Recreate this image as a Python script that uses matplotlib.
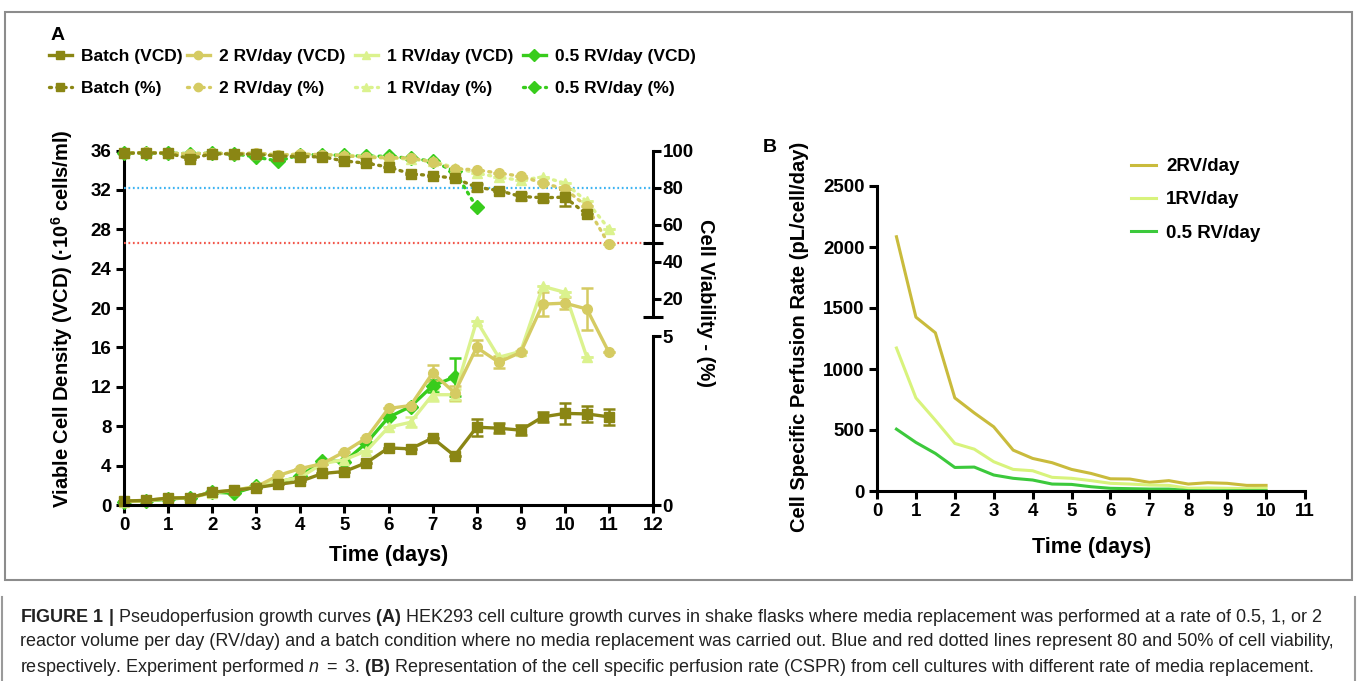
import numpy as np
import matplotlib
matplotlib.use("Agg")
import matplotlib.pyplot as plt
from matplotlib.lines import Line2D
from matplotlib.patches import Rectangle

plt.rcParams['font.family'] = ['Liberation Sans', 'DejaVu Sans']
plt.rcParams['mathtext.fontset'] = 'custom'
plt.rcParams['mathtext.rm'] = 'Liberation Sans'
plt.rcParams['mathtext.bf'] = 'Liberation Sans:bold'
plt.rcParams['mathtext.it'] = 'Liberation Sans:italic'

# ---- panel A data (time in days) ----
gun = np.arange(0, 11.01, 0.5)

batch_vcd = [0.4, 0.47, 0.7, 0.75, 1.3, 1.5, 1.76, 2.1, 2.4, 3.2, 3.4, 4.3, 5.8,
             5.7, 6.8, 5.0, 7.9, 7.8, 7.6, 8.95, 9.3, 9.25, 8.95]
batch_vcd_err = [0, 0, 0, 0, 0, 0, 0, 0, 0, 0, 0, 0, 0,
                 0, 0, 0, 0.85, 0.5, 0.5, 0.5, 1.05, 0.8, 0.8]
rv2_vcd = [0.4, 0.45, 0.7, 0.75, 1.3, 1.5, 1.85, 3.0, 3.7, 4.2, 5.4, 6.8, 9.8,
           10.1, 13.4, 11.4, 16.0, 14.5, 15.5, 20.4, 20.5, 19.9, 15.5]
rv2_vcd_err = [0, 0, 0, 0, 0, 0, 0, 0, 0, 0, 0, 0, 0,
               0, 0.85, 0.7, 0.8, 0.6, 0, 1.2, 0.6, 2.1, 0]
rv1_vcd = [0.35, 0.4, 0.65, 0.75, 1.2, 1.5, 1.9, 2.4, 2.8, 4.2, 4.6, 5.5, 7.9,
           8.4, 11.2, 11.2, 18.7, 15.0, 15.6, 22.2, 21.6, 15.0]
rv1_vcd_err = [0, 0, 0, 0, 0, 0, 0, 0, 0, 0, 0, 0, 0,
               0.5, 0.6, 0.6, 0, 0, 0, 0, 0, 0]
rv05_vcd = [0.35, 0.4, 0.6, 0.75, 1.3, 1.2, 1.9, 2.3, 2.9, 4.5, 4.4, 6.3, 8.9,
            10.0, 12.1, 13.0]
rv05_vcd_err = [0, 0, 0, 0, 0, 0, 0, 0, 0, 0, 0, 0, 0, 0, 0.6, 1.9]

batch_via = [98.8, 99.0, 98.8, 95.8, 98.5, 98.4, 98.2, 97.3, 97.0, 96.8, 94.6, 93.4,
             91.3, 87.7, 86.6, 85.3, 80.4, 78.6, 75.4, 74.7, 75.0, 65.7]
batch_via_err = [0, 0, 0, 0, 0, 0, 0, 0, 0, 0, 0, 0,
                 0, 0, 0, 0, 2.0, 0, 2.0, 2.0, 4.5, 0]
rv2_via = [98.9, 99.2, 99.0, 98.2, 98.8, 98.5, 99.0, 97.8, 98.3, 98.0, 97.5, 96.5,
           96.3, 96.3, 94.0, 90.4, 89.8, 88.0, 86.4, 82.6, 79.5, 70.0, 49.5]
rv1_via = [98.8, 99.0, 98.8, 98.5, 98.8, 98.6, 98.5, 98.0, 98.2, 98.0, 97.8, 97.0,
           96.5, 95.5, 94.5, 91.0, 88.0, 85.8, 84.1, 86.0, 82.6, 72.7, 57.9]
rv05_via = [98.8, 99.0, 98.8, 98.6, 98.8, 98.5, 96.7, 94.5, 98.0, 98.0, 97.6, 97.1,
            97.2, 96.0, 94.5, 89.0, 69.6]

# ---- panel B data ----
gun_b = np.arange(0.5, 10.01, 0.5)
cspr_2rv = [2084, 1425, 1297, 763, 640, 526, 335, 267, 232, 177, 144, 100, 98,
            71, 85, 57, 68, 63, 46, 46]
cspr_1rv = [1172, 763, 580, 390, 343, 240, 177, 166, 112, 104, 85, 63, 57,
            49, 46, 22, 25, 22, 19, 22]
cspr_05rv = [507, 398, 308, 193, 196, 131, 104, 90, 57, 54, 35, 22, 19,
             16, 16, 3, 2, 2, 2, 2]

# renkler
c_batch = '#8a8614'
c_2rv = '#d5cb62'
c_1rv = '#dbf28e'
c_05rv = '#38cc1c'
cb_2rv = '#c9bb3c'
cb_1rv = '#d8f37c'
cb_05rv = '#3cc93c'

W, H = 1357, 681
fig = plt.figure(figsize=(W / 100, H / 100), dpi=100)

def kutu(x0, y0, x1, y1):
    return [x0 / W, 1 - y1 / H, (x1 - x0) / W, (y1 - y0) / H]

tick_fs = 13.5
lab_fs = 14.5

# ---------------- panel A ----------------
ax = fig.add_axes(kutu(124, 150.5, 653, 505))
ax2 = ax.twinx()
ax3 = ax.twinx()

ax.set_xlim(0, 12)
ax.set_ylim(0, 36)
ax2.set_ylim(-91.6, 100.27)
ax3.set_ylim(0, 10.5)

ms = 7
lw = 2.4
dot = (0, (0.6, 1.6))

seriler = [
    (rv05_vcd, rv05_vcd_err, rv05_via, None, c_05rv, 'D', '0.5 RV/day'),
    (rv1_vcd, rv1_vcd_err, rv1_via, None, c_1rv, '^', '1 RV/day'),
    (rv2_vcd, rv2_vcd_err, rv2_via, None, c_2rv, 'o', '2 RV/day'),
    (batch_vcd, batch_vcd_err, batch_via, batch_via_err, c_batch, 's', 'Batch'),
]

ax2.axhline(80, color='#3fb4f2', lw=1.6, ls=(0, (0.8, 1.2)), zorder=1)
ax2.axhline(50, color='#f2584c', lw=1.6, ls=(0, (0.8, 1.2)), zorder=1)

for vcd, vcd_err, via, via_err, renk, mk, ad in seriler:
    t = gun[:len(vcd)]
    ax.errorbar(t, vcd, yerr=vcd_err, color=renk, marker=mk, ms=ms, lw=lw,
                capsize=4, capthick=1.8, elinewidth=1.8, clip_on=False)
    t2 = gun[:len(via)]
    if via_err is None:
        via_err = np.zeros(len(via))
    ax2.errorbar(t2, via, yerr=via_err, color=renk, marker=mk, ms=ms, lw=lw,
                 ls=dot, dash_capstyle='round', capsize=4, capthick=1.8,
                 elinewidth=1.8, clip_on=False)

spw = 2.2
for s in ['top', 'right']:
    ax.spines[s].set_visible(False)
for a in (ax2, ax3):
    for s in ['top', 'left', 'bottom']:
        a.spines[s].set_visible(False)
    a.spines['right'].set_linewidth(spw)
ax.spines['left'].set_linewidth(spw)
ax.spines['bottom'].set_linewidth(spw)

ax.set_xticks(range(0, 13))
ax.set_yticks(range(0, 37, 4))
ax.tick_params(width=spw, length=6, labelsize=tick_fs, pad=3)
for lab in ax.get_xticklabels() + ax.get_yticklabels():
    lab.set_fontweight('bold')

ax2.spines['right'].set_bounds(10, 100)
ax2.set_yticks([20, 40, 60, 80, 100])
ax2.set_yticks([10, 50], minor=True)
ax2.tick_params(axis='y', width=spw, length=6, labelsize=tick_fs, pad=1)
ax2.tick_params(axis='y', which='minor', width=spw, length=14, direction='inout')
ax3.spines['right'].set_bounds(0, 5)
ax3.set_yticks([0, 5])
ax3.set_yticks([5], minor=True)
ax3.tick_params(axis='y', width=spw, length=6, labelsize=tick_fs, pad=1)
ax3.tick_params(axis='y', which='minor', width=spw, length=14, direction='inout')
for a in (ax2, ax3):
    for lab in a.get_yticklabels():
        lab.set_fontweight('bold')

ax.set_xlabel('Time (days)', fontsize=lab_fs + 1, fontweight='bold')
ax.xaxis.set_label_coords(0.5, -0.113)
ax.set_ylabel(r'Viable Cell Density (VCD) (·10$^{\mathbf{6}}$ cells/ml)',
              fontsize=lab_fs, fontweight='bold')
ax.yaxis.set_label_coords(-0.0926, 0.527)
fig.text(705 / W, 1 - 303 / H, 'Cell Viability - (%)', rotation=-90,
         fontsize=lab_fs, fontweight='bold', ha='center', va='center')

fig.text(58 / W, 1 - 36 / H, 'A', fontsize=14, fontweight='bold', ha='center', va='center')

# panel A legend: one small legend per column
sutun_x = [49, 187, 355, 523]
for (vcd, vcd_err, via, via_err, renk, mk, ad), x0 in zip(reversed(seriler), sutun_x):
    h1 = Line2D([], [], color=renk, marker=mk, ms=6, lw=lw, label=ad + ' (VCD)')
    h2 = Line2D([], [], color=renk, marker=mk, ms=6, lw=lw, ls=dot,
                dash_capstyle='round', label=ad + ' (%)')
    fig.legend(handles=[h1, h2], loc='upper left',
               bbox_to_anchor=(x0 / W, 1 - 49 / H), frameon=False,
               prop={'weight': 'bold', 'size': 12.5}, handlelength=1.32,
               handletextpad=0.55, labelspacing=0.95,
               borderaxespad=0, borderpad=0)

# ---------------- panel B ----------------
bx = fig.add_axes(kutu(877, 186, 1305, 491))
bx.plot(gun_b, cspr_2rv, color=cb_2rv, lw=2.2, label='2RV/day')
bx.plot(gun_b, cspr_1rv, color=cb_1rv, lw=2.2, label='1RV/day')
bx.plot(gun_b, cspr_05rv, color=cb_05rv, lw=2.2, label='0.5 RV/day')
bx.set_xlim(0, 11)
bx.set_ylim(0, 2500)
bx.set_xticks(range(0, 12))
bx.set_yticks(range(0, 2501, 500))
for s in ['top', 'right']:
    bx.spines[s].set_visible(False)
for s in ['left', 'bottom']:
    bx.spines[s].set_linewidth(spw)
bx.tick_params(width=spw, length=6, labelsize=tick_fs, pad=3)
for lab in bx.get_xticklabels() + bx.get_yticklabels():
    lab.set_fontweight('bold')
bx.set_xlabel('Time (days)', fontsize=lab_fs + 1, fontweight='bold')
bx.xaxis.set_label_coords(0.502, -0.151)
bx.set_ylabel('Cell Specific Perfusion Rate (pL/cell/day)', fontsize=lab_fs,
              fontweight='bold')
bx.yaxis.set_label_coords(-0.159, 0.505)
bx.legend(loc='upper left', bbox_to_anchor=(1131 / W, 1 - 158 / H),
          bbox_transform=fig.transFigure, frameon=False,
          prop={'weight': 'bold', 'size': 13.5}, handlelength=1.33,
          handletextpad=0.55, labelspacing=0.86, borderaxespad=0, borderpad=0)
fig.text(770 / W, 1 - 148 / H, 'B', fontsize=14, fontweight='bold', ha='center', va='center')

# ---------------- frames and caption ----------------
fig.patches.append(Rectangle((5 / W, 1 - 580 / H), 1347 / W, 568 / H,
                             transform=fig.transFigure, fill=False,
                             ec='#8c8c8c', lw=1.5))
fig.add_artist(Line2D([2 / W, 2 / W], [0, 1 - 597 / H], color='#9a9a9a', lw=1.5))
fig.add_artist(Line2D([1355 / W, 1355 / W], [0, 1 - 597 / H], color='#9a9a9a', lw=1.5))

satirlar = [
    r'$\mathbf{FIGURE\ 1\ |}$ Pseudoperfusion growth curves $\mathbf{(A)}$ HEK293 cell culture growth curves in shake flasks where media replacement was performed at a rate of 0.5, 1, or 2',
    r'reactor volume per day (RV/day) and a batch condition where no media replacement was carried out. Blue and red dotted lines represent 80 and 50% of cell viability,',
    r'respectively. Experiment performed $n\ =\ 3$. $\mathbf{(B)}$ Representation of the cell specific perfusion rate (CSPR) from cell cultures with different rate of media replacement.',
]
for i, s in enumerate(satirlar):
    fig.text(20 / W, 1 - (617 + 25 * i) / H, s, fontsize=13, family='Liberation Sans',
             color='#222222', va='center', ha='left')

fig.savefig('out.png', dpi=100)
